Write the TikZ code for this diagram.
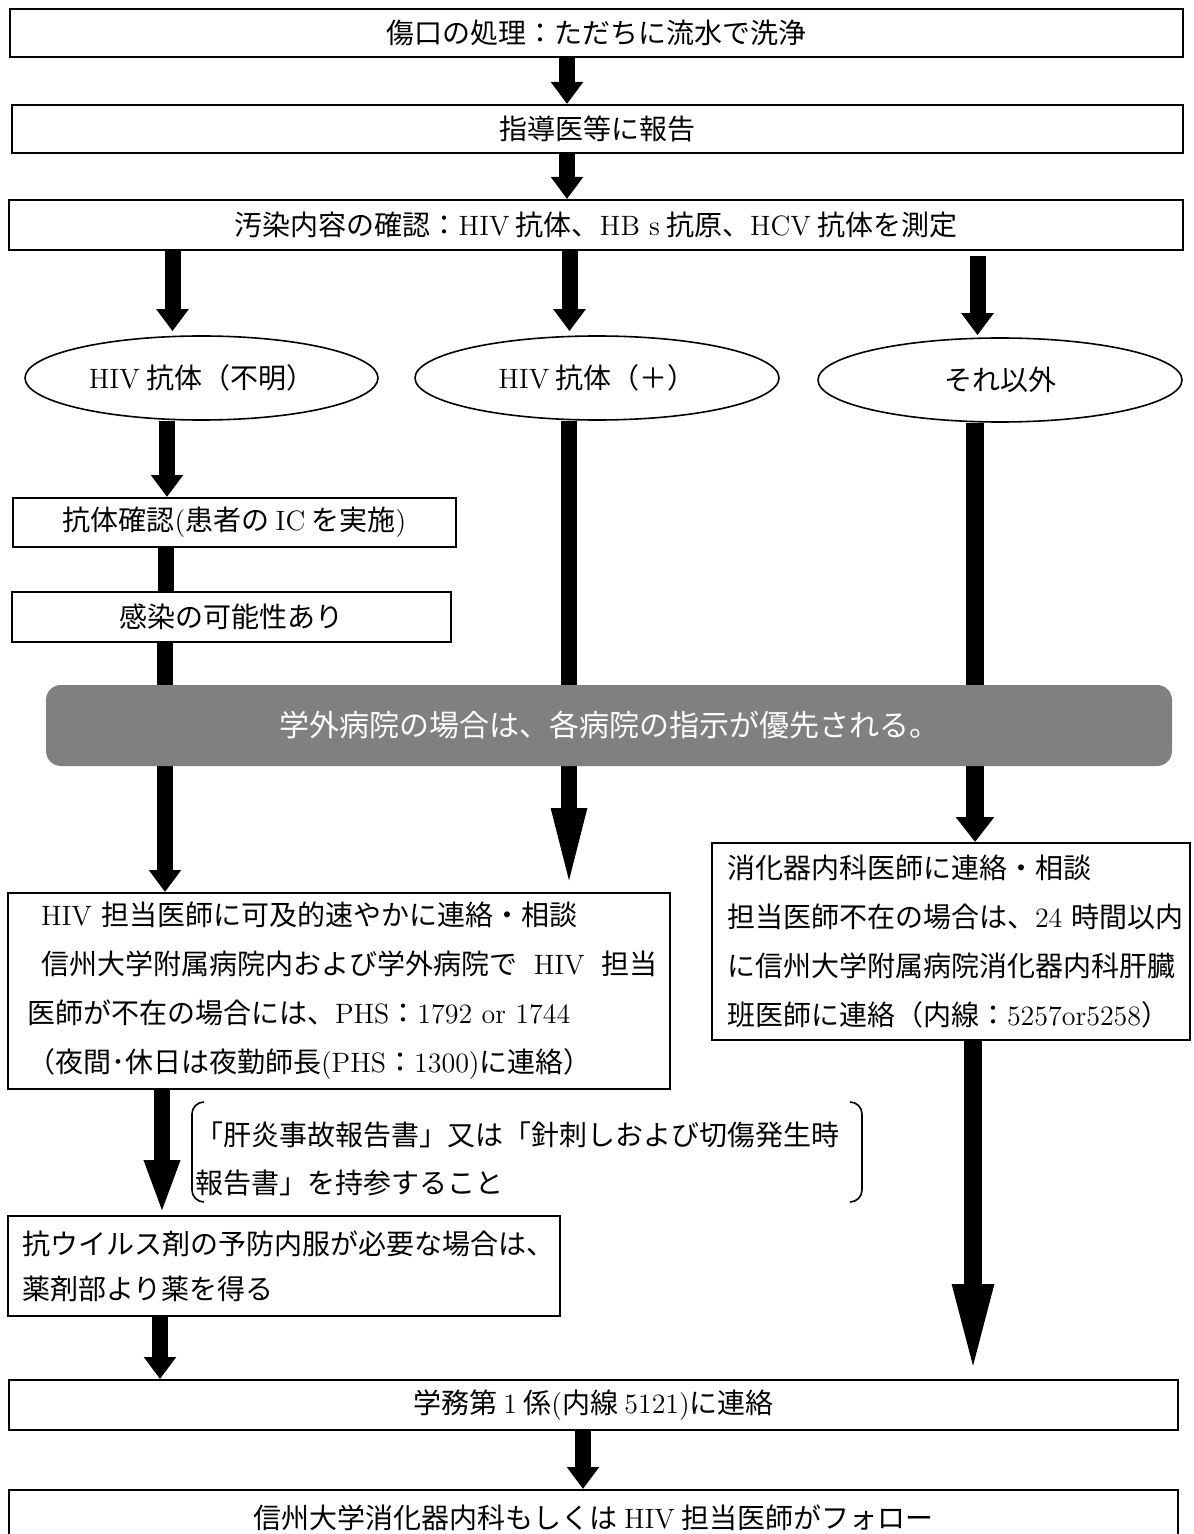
\documentclass[tikz,border=0pt]{standalone}
\usepackage{fontspec}
\newfontfamily\jp{Noto Sans CJK JP}
\usetikzlibrary{arrows.meta,shapes.geometric}
% Latin words inside Japanese text are set in the roman face
\newcommand\latn[1]{{\rmfamily #1}}

\begin{document}
\begin{tikzpicture}[x=0.5pt,y=-0.5pt,
  jpfont/.style={font=\jp\fontsize{14pt}{24.5pt}\selectfont},
  box/.style={draw, line width=1pt, fill=white, inner sep=0pt, jpfont},
  oval/.style={ellipse, draw, line width=0.8pt, fill=white, inner sep=0pt, jpfont},
  textbox/.style={box, align=left},
  shaft/.style={line width=8pt},
  blk/.style={shaft, -{Triangle[width=15.5pt,length=11pt]}},
  wideshaft/.style={line width=9.3pt},
  note/.style={fill=black!50, rounded corners=7.5pt, inner sep=0pt, text=white,
    font=\jp\fontsize{15pt}{18pt}\selectfont}
]
\useasboundingbox (0,0) rectangle (1193,1534);

% ---- main steps ----
\node[box, minimum width=586.5pt, minimum height=24pt] (n1) at (596.5,33) {傷口の処理：ただちに流水で洗浄};
\node[box, minimum width=585.5pt, minimum height=24pt] (n2) at (597.5,129) {指導医等に報告};
\node[box, minimum width=587pt, minimum height=25pt] (n3) at (596,225)
  {汚染内容の確認：\latn{HIV} 抗体、\latn{HB s} 抗原、\latn{HCV} 抗体を測定};

% ---- branches ----
\node[oval, minimum width=176.5pt, minimum height=42pt] (e1) at (201.5,378) {\latn{HIV} 抗体（不明）};
\node[oval, minimum width=182pt, minimum height=42pt] (e2) at (597,378) {\latn{HIV} 抗体（＋）};
\node[oval, minimum width=182pt, minimum height=42pt] (e3) at (1000,380) {それ以外};

\node[box, minimum width=221.5pt, minimum height=24.5pt] (n4) at (234.5,522.5)
  {抗体確認\latn{(}患者の \latn{IC} を実施\latn{)}};
\node[box, minimum width=219.5pt, minimum height=25pt] (n5) at (231.5,617) {感染の可能性あり};

\node[textbox, text width=312pt, inner xsep=9.5pt, minimum height=98pt] (n6) at (339,991)
  {\mbox{\hspace*{7pt}\latn{HIV} 担当医師に可及的速やかに連絡・相談}\\
   \mbox{\hspace*{7pt}信州大学附属病院内および学外病院で\hspace{0.6em}\latn{HIV}\hspace{0.6em}担当}\\
   \mbox{医師が不在の場合には、\latn{PHS}：\latn{1792 or 1744}}\\
   \mbox{（夜間･休日は夜勤師長\latn{(PHS}：\latn{1300)}に連絡）}};

\node[textbox, text width=224pt, inner xsep=7.5pt, minimum height=98.5pt] (n7) at (951,941.5)
  {\mbox{消化器内科医師に連絡・相談}\\
   \mbox{担当医師不在の場合は、\latn{24} 時間以内}\\
   \mbox{に信州大学附属病院消化器内科肝臓}\\
   \mbox{班医師に連絡（内線：\latn{5257or5258}）}};

% ---- reminder in brackets ----
\node[align=left, inner sep=0pt, anchor=west,
  font=\jp\fontsize{14pt}{24pt}\selectfont] (memo) at (195,1159)
  {「肝炎事故報告書」又は「針刺しおよび切傷発生時\\
   報告書」を持参すること};
\draw[line width=0.8pt, rounded corners=6pt]
  (204,1102) -- (192,1102) -- (192,1202) -- (204,1202);
\draw[line width=0.8pt, rounded corners=6pt]
  (850,1102) -- (862,1102) -- (862,1202) -- (850,1202);

\node[textbox, text width=262pt, inner xsep=7pt, minimum height=50pt,
  font=\jp\fontsize{14pt}{22.5pt}\selectfont] (n8) at (284,1266)
  {\mbox{抗ウイルス剤の予防内服が必要な場合は、}\\
   \mbox{薬剤部より薬を得る}};

\node[box, minimum width=584.5pt, minimum height=25pt] (n9) at (593.5,1405)
  {学務第 \latn{1} 係\latn{(}内線 \latn{5121)}に連絡};
\node[box, minimum width=584.5pt, minimum height=28pt] (n10) at (593.5,1518)
  {信州大学消化器内科もしくは \latn{HIV} 担当医師がフォロー};

% ---- arrow columns ----
\coordinate (xa) at (567,0);
\coordinate (xb) at (583,0);
\coordinate (xl1) at (172.5,0);
\coordinate (xl2) at (167,0);
\coordinate (xl3) at (165.5,0);
\coordinate (xl4) at (165,0);
\coordinate (xl5) at (162,0);
\coordinate (xl6) at (160,0);
\coordinate (xm1) at (569.5,0);
\coordinate (xm2) at (569,0);
\coordinate (xr1) at (977.5,0);
\coordinate (xr2) at (975,0);
\coordinate (xr3) at (973,0);

\draw[blk] (n1.south -| xa) -- (n2.north -| xa);
\draw[blk] (n2.south -| xa) -- (n3.north -| xa);
\draw[blk, shorten >=2pt] (n3.south -| xl1) -- (e1.north -| xl1);
\draw[blk, shorten >=2pt] (n3.south -| xm1) -- (e2.north -| xm1);
\draw[blk, shorten <=2.5pt, shorten >=1pt] (n3.south -| xr1) -- (e3.north -| xr1);
\draw[blk] (e1.south -| xl2) -- (n4.north -| xl2);
\draw[shaft] (n4.south -| xl3) -- (n5.north -| xl3);
\draw[blk] (n5.south -| xl4) -- (n6.north -| xl4);
\draw[shaft, -{Triangle[width=15.5pt,length=42pt]}] (e2.south -| xm2) -- (n6.north -| xm2);
\draw[wideshaft, -{Triangle[width=18.5pt,length=12.5pt]}] (e3.south -| xr2) -- (n7.north -| xr2);
\draw[shaft, -{Triangle[width=16pt,length=27.5pt]}] (n6.south -| xl5) -- (n8.north -| xl5);
\draw[blk] (n8.south -| xl6) -- (n9.north -| xl6);
\draw[wideshaft, -{Triangle[width=18pt,length=47.5pt]}] (n7.south -| xr3) -- (n9.north -| xr3);
\draw[blk] (n9.south -| xb) -- (n10.north -| xb);

% ---- notice across the three columns ----
\node[note, minimum width=563pt, minimum height=40.5pt] (notice) at (609,725.5)
  {学外病院の場合は、各病院の指示が優先される。};
\end{tikzpicture}
\end{document}
